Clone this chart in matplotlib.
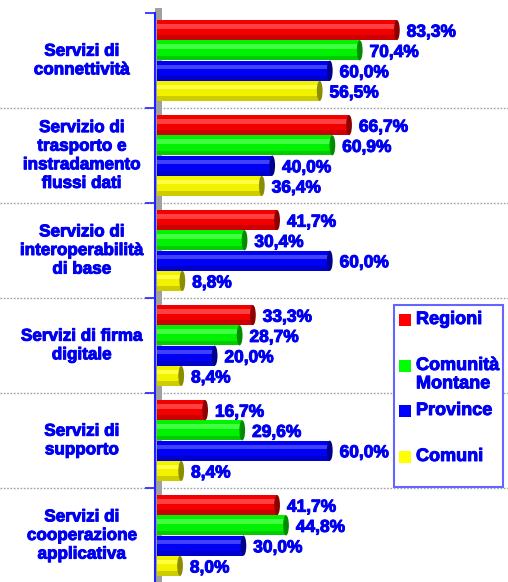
import matplotlib.pyplot as plt
import matplotlib.colors as mcolors
import matplotlib.patheffects as pe
from matplotlib.patches import Rectangle, Ellipse

categorie = ["Servizi di\nconnettività",
             "Servizio di\ntrasporto e\ninstradamento\nflussi dati",
             "Servizio di\ninteroperabilità\ndi base",
             "Servizi di firma\ndigitale",
             "Servizi di\nsupporto",
             "Servizi di\ncooperazione\napplicativa"]
serie = ["Regioni", "Comunità\nMontane", "Province", "Comuni"]
colori = ["#ff0000", "#00ff00", "#0000ff", "#ffff00"]

regioni = [83.3, 66.7, 41.7, 33.3, 16.7, 41.7]
comunita_montane = [70.4, 60.9, 30.4, 28.7, 29.6, 44.8]
province = [60.0, 40.0, 60.0, 20.0, 60.0, 30.0]
comuni = [56.5, 36.4, 8.8, 8.4, 8.4, 8.0]
valori = [regioni, comunita_montane, province, comuni]

blu_testo = "#0000f0"
plt.rcParams['font.family'] = ['Liberation Sans', 'DejaVu Sans']
spesso = [pe.withStroke(linewidth=0.7, foreground=blu_testo)]

def mescola(c, altro, f):
    a = mcolors.to_rgb(c)
    b = mcolors.to_rgb(altro)
    return tuple(a[i] * (1 - f) + b[i] * f for i in range(3))

fig = plt.figure(figsize=(5.08, 5.82), dpi=100)
W, H = 508, 582
ax = fig.add_axes([155 / W, (582 - 583) / H, 353 / W, 570 / H])
ax.set_xlim(-0.7, 121.9)
ax.set_ylim(6, 0)

# parete grigia dietro le barre
ax.add_patch(Rectangle((-0.7, -0.05), 2.6, 6.1, facecolor="#a0a0a0",
                       edgecolor="none", clip_on=False, zorder=1))

offs = [-0.32, -0.107, 0.107, 0.32]
h = 0.212
cap = 2.0
for s in range(4):
    for g in range(6):
        v = valori[s][g]
        y = g + 0.5 + offs[s]
        c = colori[s]
        ax.barh(y, v, height=h, left=0, color=mescola(c, "black", 0.05),
                edgecolor="none", zorder=3)
        # effetto cilindro
        ax.barh(y - h * 0.18, v, height=h * 0.22, left=0,
                color=mescola(c, "white", 0.25), edgecolor="none", zorder=4)
        ax.barh(y + h * 0.38, v, height=h * 0.24, left=0,
                color=mescola(c, "black", 0.2), edgecolor="none", zorder=4)
        ax.add_patch(Ellipse((v, y), cap, h, facecolor=mescola(c, "black", 0.45),
                             edgecolor="none", zorder=5))
        lab = ("%.1f%%" % v).replace(".", ",")
        ax.annotate(lab, (v + cap / 2, y), xytext=(5, -1.5), textcoords="offset points",
                    ha="left", va="center", fontsize=12.5, fontweight="bold",
                    color=blu_testo, zorder=6, path_effects=spesso)

# separatori tratteggiati
for g in range(1, 6):
    ax.plot([-155 / 353, 1], [g, g], transform=ax.get_yaxis_transform(),
            color="#a0a0a0", linestyle=(0, (1.2, 1.2)), linewidth=1, clip_on=False, zorder=0)

for g in range(6):
    ax.text(-73 / 353, g + 0.5, categorie[g], transform=ax.get_yaxis_transform(),
            ha="center", va="center", fontsize=12.3, fontweight="bold",
            color=blu_testo, linespacing=1.3, path_effects=spesso)

for sp in ["top", "right", "bottom"]:
    ax.spines[sp].set_visible(False)
ax.spines["left"].set_color("#2020ff")
ax.spines["left"].set_linewidth(1.5)
ax.spines["left"].set_zorder(7)
ax.set_xticks([])
ax.set_yticks(range(7))
ax.set_yticklabels([])
ax.tick_params(axis="y", length=7, width=1.2, color="#2020ff")

# legenda
fig.patches.append(Rectangle((394 / W, (H - 487) / H), 109 / W, 182 / H,
                             transform=fig.transFigure, facecolor="white",
                             edgecolor="#6464ff", linewidth=1.5, zorder=8))
ys = [320, 366, 411, 457]
for s in range(4):
    yy = ys[s]
    fig.patches.append(Rectangle((399 / W, (H - yy - 6) / H), 12 / W, 12 / H,
                                 transform=fig.transFigure, facecolor=colori[s],
                                 edgecolor="none", zorder=9))
    fig.text(416 / W, (H - yy + 9) / H, serie[s], ha="left", va="top",
             fontsize=13, fontweight="bold", color=blu_testo, linespacing=1.1,
             zorder=9, path_effects=spesso)

fig.savefig("out.png", dpi=100)
